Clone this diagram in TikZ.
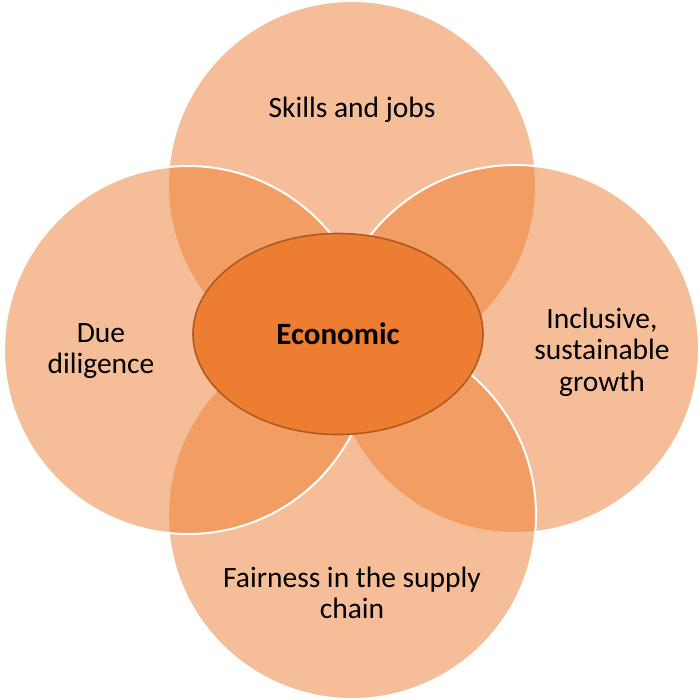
\documentclass[tikz,border=0pt]{standalone}
\usepackage{fontspec}
\setmainfont{Carlito}
\usetikzlibrary{shapes.geometric}
\definecolor{orange}{RGB}{237, 125, 49}
\definecolor{rust}{RGB}{174, 90, 33}
\def\rcircle{184pt}

\begin{document}
\begin{tikzpicture}[x=1pt, y=-1pt, line width=2pt, line cap=round,
    petal/.style={fill=orange, fill opacity=0.5, draw=white, draw opacity=1},
    label/.style={align=center, inner sep=0pt, font=\fontsize{29.5}{31.5}\selectfont}]
 
                 \useasboundingbox (0, 0) rectangle (700, 699);
 
                 \coordinate (skills) at (352, 185);
                 \coordinate (growth) at (515, 349);
                 \coordinate (supply) at (352, 515);
                 \coordinate (diligence) at (188, 350);
 
                 \path[petal] (skills) circle[radius=\rcircle];
                 \path[petal] (growth) circle[radius=\rcircle];
                 \path[petal] (supply) circle[radius=\rcircle];
                 \path[petal] (diligence) circle[radius=\rcircle];
 
                 \node[ellipse, fill=orange, draw=rust, line width=1.6pt,
                       minimum width=290pt, minimum height=201pt, inner sep=0pt,
                       font=\fontsize{31}{33}\selectfont\bfseries] (econ) at (338, 334) {Economic};
 
                 \node[label] (skillslabel) at (352, 110) {Skills and jobs};
                 \node[label] (diligencelabel) at (101, 351) {Due\\diligence};
                 \node[label] (growthlabel) at (602, 352) {Inclusive,\\sustainable\\growth};
                 \node[label] (supplylabel) at (352, 593) {Fairness in the supply\\chain};
 
             \end{tikzpicture}
\end{document}
